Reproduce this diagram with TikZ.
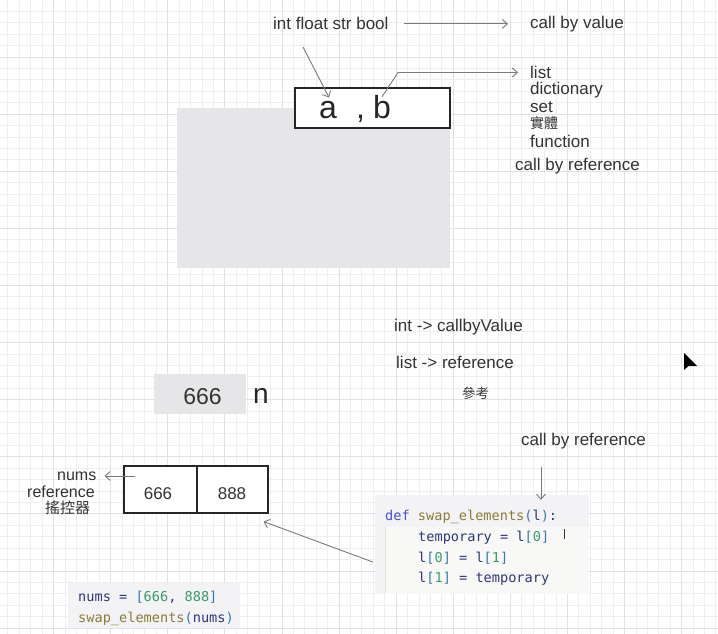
\documentclass[tikz,border=0pt]{standalone}
\usepackage{fontspec}
\setmainfont{Liberation Sans}
\newfontfamily\cjk{Noto Sans CJK TC}
\newfontfamily\codefont{DejaVu Sans Mono}
\usetikzlibrary{arrows.meta}

\definecolor{gridminor}{HTML}{EEEEF2}
\definecolor{gridmajor}{HTML}{E0E0E6}
\definecolor{labelgray}{HTML}{333333}
\definecolor{arrowgray}{HTML}{7A7A7A}
\definecolor{panel}{HTML}{E6E6E8}
\definecolor{codebg}{HTML}{F3F3F6}
\definecolor{codebody}{HTML}{F8F8F6}
\definecolor{kw}{HTML}{4650C8}
\definecolor{fn}{HTML}{8C7A3A}
\definecolor{ident}{HTML}{2E3779}
\definecolor{num}{HTML}{3C9A6E}
\definecolor{brk}{HTML}{3A78A8}

% code colouring helpers
\newcommand{\ckw}[1]{\textcolor{kw}{#1}}
\newcommand{\cfn}[1]{\textcolor{fn}{#1}}
\newcommand{\cnum}[1]{\textcolor{num}{#1}}
\newcommand{\cbr}[1]{\textcolor{brk}{#1}}

\begin{document}
\begin{tikzpicture}[x=1pt,y=-1pt,
  txt/.style={inner sep=0pt, anchor=base west, text=labelgray, font=\fontsize{17}{20}\selectfont},
  txtsm/.style={inner sep=0pt, anchor=base west, text=labelgray, font=\fontsize{16}{19}\selectfont},
  cjktxt/.style={inner sep=0pt, anchor=base west, text=labelgray, font=\cjk\fontsize{#1}{#1}\selectfont},
  big/.style={inner sep=0pt, anchor=base west, text=black!85, font=\fontsize{32}{36}\selectfont},
  arr/.style={draw=arrowgray, line width=0.9pt, -{Straight Barb[length=5pt,width=9pt]}},
  panelbox/.style={fill=panel, draw=none, inner sep=0pt},
  cell/.style={draw=black!85, line width=1.2pt, fill=white, inner sep=0pt, minimum height=47pt},
  codebox/.style={fill=codebg, draw=none, inner sep=0pt},
  code/.style={inner sep=0pt, anchor=base west, text=ident, font=\codefont\fontsize{13.6}{16}\selectfont},
]
\useasboundingbox (0,0) rectangle (718,634);
\fill[white] (0,0) rectangle (718,634);

% squared paper
\foreach \i in {0,...,63} {
  \pgfmathsetmacro\gx{-3.5+\i*11.42}
  \draw[gridminor, line width=1pt] (\gx,0) -- (\gx,634);
}
\foreach \j in {1,...,55} {
  \pgfmathsetmacro\gy{\j*11.42}
  \draw[gridminor, line width=1pt] (0,\gy) -- (718,\gy);
}
\foreach \i in {1,...,12} {
  \pgfmathsetmacro\gx{-3.5+\i*57.1}
  \draw[gridmajor, line width=1pt] (\gx,0) -- (\gx,634);
}
\foreach \j in {1,...,11} {
  \pgfmathsetmacro\gy{\j*57.1}
  \draw[gridmajor, line width=1pt] (0,\gy) -- (718,\gy);
}

% top: value types vs. reference types
\node[txt] (types) at (273,30) {int float str bool};
\node[txt] (byvalue) at (530,29) {call by value};
\draw[arr] ([shift={(15,0)}]types.east) -- ([shift={(-22,0)}]types.east -| byvalue.west);

\node[panelbox, minimum width=273pt, minimum height=160pt] (heap) at (313.5,188) {};
\node[draw=black!85, line width=1.3pt, fill=white, inner sep=0pt,
      minimum width=155pt, minimum height=40pt] (abbox) at (372.5,108) {};
\node[big] (a) at (319,118) {a};
\node[big] (comma) at (356,118) {,};
\node[big] (b) at (373,118) {b};

\node[txt] (list) at (530,78) {list};
\node[txt] (dict) at (530,95) {dictionary};
\node[txt] (set) at (530,112.5) {set};
\node[cjktxt=14] (entity) at (530,128.5) {實體};
\node[txt] (func) at (530,147) {function};
\node[txt] (byref) at (515,170) {call by reference};

\coordinate (tstart) at (303,47);
\draw[arr] (tstart) -- ([shift={(1,-3)}]a.north);
\coordinate (bend) at (398,72.5);
\draw[arr] ([shift={(0,2)}]b.north) -- (bend) -- ([shift={(-12,0)}]bend -| list.west);

% middle notes
\node[txt] (intnote) at (394,331.5) {int -> callbyValue};
\node[txt] (listnote) at (396,368.5) {list -> reference};
\node[cjktxt=13.5] (cankao) at (462,398) {參考};
\node[txt] (byref2) at (521,445.5) {call by reference};

% a single int value
\node[panelbox, minimum width=92pt, minimum height=40pt] (nbox) at (200,393.5) {};
\node[inner sep=0pt, anchor=base, text=labelgray, font=\fontsize{23}{26}\selectfont] (nval) at (202.5,404) {666};
\node[inner sep=0pt, anchor=base west, text=black!85, font=\fontsize{28}{30}\selectfont] (nname) at (253,403) {n};

% the list object
\node[cell, minimum width=73pt] (c1) at (160.5,489.5) {};
\node[cell, minimum width=71pt] (c2) at (232.5,489.5) {};
\node[inner sep=0pt, anchor=base, text=labelgray, font=\fontsize{17}{20}\selectfont] (v1) at (158,499) {666};
\node[inner sep=0pt, anchor=base, text=labelgray, font=\fontsize{17}{20}\selectfont] (v2) at (232,499) {888};

\node[txtsm] (nums) at (57,480) {nums};
\node[txtsm] (refword) at (27,497) {reference};
\node[cjktxt=15] (remote) at (45,513) {搖控器};
\coordinate (numsfrom) at (135,476);
\draw[arr] (numsfrom) -- ([shift={(8,0)}]numsfrom -| nums.east);

% function definition
\node[codebox, minimum width=214pt, minimum height=99pt] (code) at (482,544.5) {};
\fill[codebody] (386,527) rectangle (589,594);
\draw[black!12, line width=0.8pt] (385.5,527) -- (385.5,593);
\node[code] (l1) at (385,520) {\ckw{def} \cfn{swap\_elements}\cbr{(}l\cbr{)}:};
\node[code] (l2) at (418,541) {temporary = l\cbr{[}\cnum{0}\cbr{]}};
\node[code] (l3) at (418,562) {l\cbr{[}\cnum{0}\cbr{]} = l\cbr{[}\cnum{1}\cbr{]}};
\node[code] (l4) at (418,582) {l\cbr{[}\cnum{1}\cbr{]} = temporary};
\draw[labelgray, line width=1.3pt] (564.5,529) -- (564.5,539);

\coordinate (refdrop) at (541,467);
\draw[arr] (refdrop) -- ([shift={(0,5)}]refdrop |- code.north);
\draw[arr] ([shift={(-2,17.5)}]code.west) -- ([shift={(-5,8)}]c2.south east);

% the call
\node[codebox, minimum width=172pt, minimum height=45pt] (call) at (154,605.5) {};
\node[code] (k1) at (78,601) {nums = \cbr{[}\cnum{666}, \cnum{888}\cbr{]}};
\node[code] (k2) at (78,622) {\cfn{swap\_elements}\cbr{(}nums\cbr{)}};

% mouse pointer
\fill[black] (684,353) -- (684,370) -- (688.5,366) -- (697,366) -- cycle;
\end{tikzpicture}
\end{document}
